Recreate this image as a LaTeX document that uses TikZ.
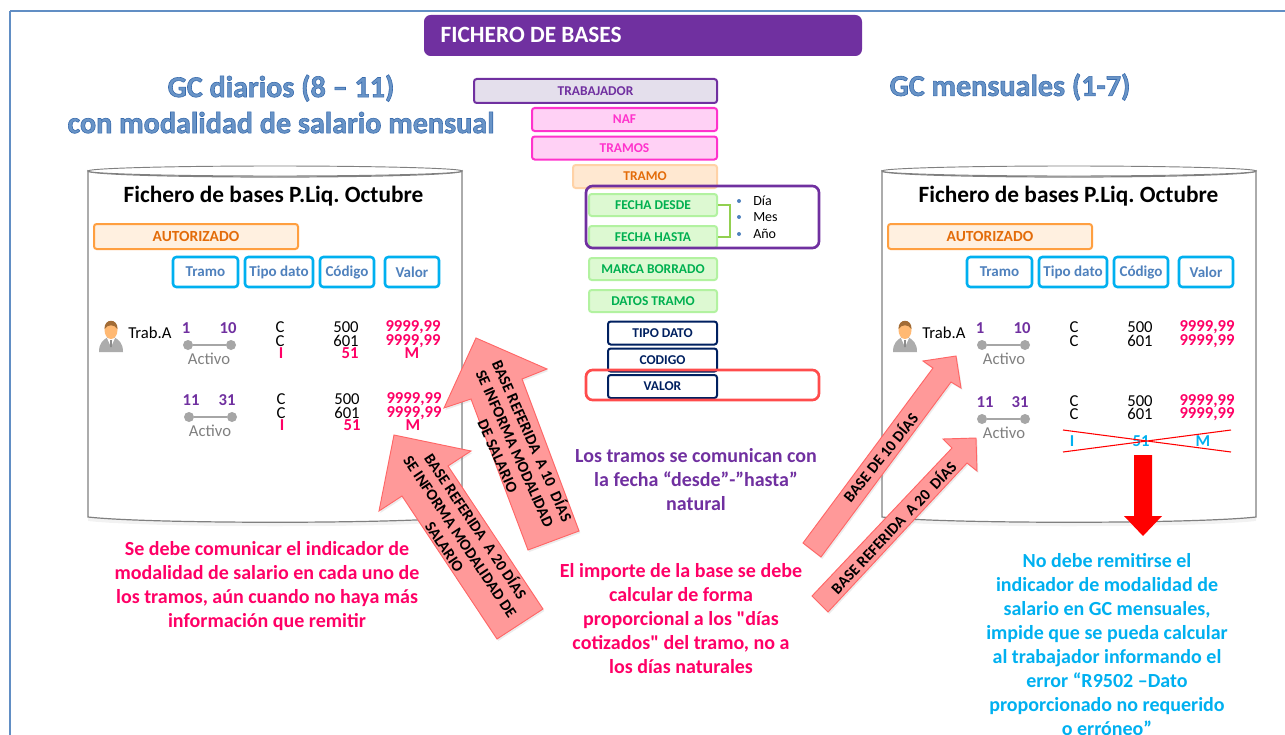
\documentclass[tikz,border=0pt]{standalone}
\usepackage{fontspec}
\setmainfont{Carlito}[Ligatures=TeXOff]
\usetikzlibrary{calc,shadows}
\def\px{0.75pt}
\frenchspacing
\definecolor{lila}{HTML}{7030A0}
\definecolor{lilaclaro}{HTML}{E4DFEC}
\definecolor{azultit}{HTML}{4F81BD}
\definecolor{rosa}{HTML}{FF0066}
\definecolor{fuerte}{HTML}{FF33CC}
\definecolor{fuerteclaro}{HTML}{FFD1F5}
\definecolor{celeste}{HTML}{00B0F0}
\definecolor{naranja}{HTML}{E36C0A}
\definecolor{verde}{HTML}{00B050}
\definecolor{verdeclaro}{HTML}{DDF9D2}
\definecolor{verdeborde}{HTML}{B2F2A0}
\definecolor{marino}{HTML}{002060}
\definecolor{flecha}{HTML}{FF9999}
\definecolor{llave}{HTML}{92D050}
\tikzset{
  barra/.style={draw,rounded corners=2pt,line width=1.5pt,inner sep=0pt,font=\fontsize{10.1}{12}\selectfont\bfseries},
  morada/.style={barra,fill=lilaclaro,draw=lila,text=lila},
  fucsia/.style={barra,fill=fuerteclaro,draw=fuerte,text=fuerte},
  naranjas/.style={barra,fill=orange!18,draw=orange!35,text=naranja},
  verdes/.style={barra,fill=verdeclaro,draw=verdeborde,text=verde},
  marinos/.style={barra,fill=white,draw=marino,text=marino},
  aviso/.style={draw,rounded corners=5pt,line width=2pt},
  titulo/.style={font=\fontsize{22.6}{27}\selectfont\bfseries,text=azultit!85!white,align=center},
  fichero/.style={font=\fontsize{17.5}{20}\selectfont\bfseries},
  cabecera/.style={draw=celeste,rounded corners=2.5pt,line width=1.9pt,fill=white,inner sep=0pt,text=azultit,minimum height=30*\px,font=\fontsize{11.3}{13}\selectfont\bfseries},
  autorizado/.style={barra,fill=orange!12,draw=orange!75,text=naranja,minimum width=204*\px,minimum height=25*\px,font=\fontsize{11.6}{13}\selectfont\bfseries},
  lista/.style={inner sep=0pt,font=\fontsize{10.5}{10.5}\selectfont},
  dato/.style={inner sep=0pt,font=\fontsize{12.5}{12.5}\selectfont},
  datorosa/.style={dato,text=rosa,font=\fontsize{12.5}{12.5}\selectfont\bfseries},
  dia/.style={dato,text=lila,font=\fontsize{12.5}{12.5}\selectfont\bfseries},
  activo/.style={dato,text=gray},
  punto/.style={circle,fill=gray!70,inner sep=0pt,minimum size=10*\px},
  nota/.style={align=center,font=\fontsize{15}{18}\selectfont\bfseries},
  dentro/.style={align=center,inner sep=0pt,font=\fontsize{11.8}{14}\selectfont\bfseries},
  pink/.style={fill=flecha,draw=red!60!white,line width=.7pt,drop shadow={opacity=.15,shadow xshift=1pt,shadow yshift=-1.5pt}},
  bidon/.style={fill=white,draw=gray,line width=.9pt,drop shadow={opacity=.1,shadow xshift=0pt,shadow yshift=-3pt}},
}
\newcommand{\persona}[2]{%
\begin{scope}[shift={(#1,#2)}]
\fill[gray!65] (-12,17) .. controls (-12,8) and (-8,5) .. (-3,2) -- (3,2) .. controls (8,5) and (12,8) .. (12,17) -- cycle;
\fill[white] (-4,3) -- (0,12) -- (4,3) -- cycle;
\fill[gray!90] (-1,5) -- (1,5) -- (0.8,12) -- (-0.8,12) -- cycle;
\fill[orange!55!white] (0,-5) ellipse (6.5 and 9);
\fill[brown!85!black] (-6.5,-6) .. controls (-7,-17) and (7,-17) .. (6.5,-6) .. controls (3,-11) and (-3,-11) .. (-6.5,-6) -- cycle;
\end{scope}}
\newcommand{\realce}[1]{\special{pdf:code 2 Tr 0.45 w 0.22 0.42 0.68 RG}#1\special{pdf:code 0 Tr}}
\begin{document}
\begin{tikzpicture}[x=0.75pt,y=-0.75pt]
\useasboundingbox (0,0) rectangle (1285,735);
\draw[color=azultit!90,line width=1.5pt] (10,11) -- (1285,11) (10,11) -- (10,740);
%titulo
\node[fill=lila,rounded corners=5pt,minimum width=438*\px,minimum height=41*\px,inner sep=0pt] (cabfichero) at (643,35.5) {};
\node[text=white,anchor=west,font=\fontsize{17.5}{20}\selectfont\bfseries] (fichero) at (436,34.5) {FICHERO DE BASES};
\node[titulo] (gcdiarios) at (281,104) {\realce{GC diarios (8 – 11)}\\\realce{con modalidad de salario mensual}};
\node[titulo] (gcmensuales) at (1010,87) {\realce{GC mensuales (1-7)}};
%bidones
\draw[bidon] (88,171) arc[start angle=180,end angle=0,x radius=187,y radius=6] -- (462,517) .. controls (400,524) and (150,524) .. (88,517) -- cycle;
\draw[gray,line width=.7pt,fill=white] (275,171) ellipse (187 and 5);
\draw[bidon] (882,171) arc[start angle=180,end angle=0,x radius=187,y radius=6] -- (1256,517) .. controls (1194,524) and (944,524) .. (882,517) -- cycle;
\draw[gray,line width=.7pt,fill=white] (1069,171) ellipse (187 and 5);
\node[fichero] (ficheroizq) at (273.5,196) {Fichero de bases P.Liq. Octubre};
\node[fichero] (ficheroder) at (1068.5,196) {Fichero de bases P.Liq. Octubre};
%columna central
\node[morada,minimum width=243*\px,minimum height=24*\px] (trabajador) at (595.5,91) {TRABAJADOR};
\node[fucsia,minimum width=185*\px,minimum height=23*\px] (naf) at (624.5,119.5) {NAF};
\node[fucsia,minimum width=185*\px,minimum height=23*\px] (tramos) at (624.5,148) {TRAMOS};
\node[naranjas,minimum width=144*\px,minimum height=23*\px] (tramo) at (645,176.5) {TRAMO};
\node[verdes,minimum width=128*\px,minimum height=22*\px] (desde) at (653,205) {FECHA DESDE};
\node[verdes,minimum width=128*\px,minimum height=22*\px] (hasta) at (653,237) {FECHA HASTA};
\node[verdes,minimum width=128*\px,minimum height=22*\px] (marca) at (653,269) {MARCA BORRADO};
\node[verdes,minimum width=128*\px,minimum height=22*\px] (datos) at (653,301) {DATOS TRAMO};
\node[marinos,minimum width=109*\px,minimum height=23*\px] (tipo) at (662.5,333) {TIPO DATO};
\node[marinos,minimum width=109*\px,minimum height=23*\px] (codigo) at (662.5,360) {CODIGO};
\node[marinos,minimum width=109*\px,minimum height=23*\px] (valor) at (662.5,386.5) {VALOR};
\draw[llave,line width=1.5pt] (desde.east) -- ++(12,0) |- (hasta.east);
\node[aviso,draw=lila,minimum width=233*\px,minimum height=62*\px,inner sep=0pt] (marcofecha) at (702.5,217) {};
\node[aviso,draw=red!70!white,minimum width=233*\px,minimum height=30*\px,inner sep=0pt] (marcovalor) at (702.5,385) {};
\node[lista,anchor=west] (ndia) at (753,201) {Día};
\node[lista,anchor=west] (nmes) at (753,217) {Mes};
\node[lista,anchor=west] (nano) at (753,234) {Año};
\fill[azultit] (739,201) circle (2) (739,217) circle (2) (739,234) circle (2);
%cabeceras izquierda
\node[autorizado] (autizq) at (196,236.5) {AUTORIZADO};
\node[cabecera,minimum width=65*\px] (tramoizq) at (205.5,272) {Tramo};
\node[cabecera,minimum width=68*\px] (tipoizq) at (279,272) {Tipo dato};
\node[cabecera,minimum width=54*\px] (codigoizq) at (347,272) {Código};
\node[cabecera,minimum width=54*\px] (valorizq) at (412,272) {Valor};
%trabajador izquierda
\persona{111}{335}
\node[dato] (trabizq) at (150,333) {Trab.A};
\node[dia] (d1) at (186,328) {1};
\node[dia] (d10) at (228,328) {10};
\node[punto] (p1) at (188,345) {};
\node[punto] (p2) at (231,345) {};
\draw[gray!70,line width=1pt] (p1) -- (p2);
\node[activo] (act1) at (209,359) {Activo};
\node[dato] (c1) at (280,327) {C};
\node[dato] (c2) at (280,341) {C};
\node[datorosa] (i1) at (281,353) {I};
\node[dato] (v500) at (346,327) {500};
\node[dato] (v601) at (346,341) {601};
\node[datorosa] (v51) at (350,353) {51};
\node[datorosa] (imp1) at (413,327) {9999,99};
\node[datorosa] (imp2) at (413,341) {9999,99};
\node[datorosa] (m1) at (412,353) {M};
\node[dia] (d11) at (191,400) {11};
\node[dia] (d31) at (227,400) {31};
\node[punto] (p3) at (189,417) {};
\node[punto] (p4) at (232,417) {};
\draw[gray!70,line width=1pt] (p3) -- (p4);
\node[activo] (act2) at (210,431) {Activo};
\node[dato] (c3) at (281,399) {C};
\node[dato] (c4) at (281,413) {C};
\node[datorosa] (i2) at (282,425) {I};
\node[dato] (w500) at (347,399) {500};
\node[dato] (w601) at (347,413) {601};
\node[datorosa] (w51) at (352,425) {51};
\node[datorosa] (imp3) at (414,399) {9999,99};
\node[datorosa] (imp4) at (414,413) {9999,99};
\node[datorosa] (m2) at (413,425) {M};
%cabeceras derecha
\node[autorizado] (autder) at (990,236.5) {AUTORIZADO};
\node[cabecera,minimum width=65*\px] (tramoder) at (999.5,272) {Tramo};
\node[cabecera,minimum width=68*\px] (tipoder) at (1073,272) {Tipo dato};
\node[cabecera,minimum width=54*\px] (codigoder) at (1141,272) {Código};
\node[cabecera,minimum width=54*\px] (valorder) at (1206,272) {Valor};
%trabajador derecha
\persona{905}{335}
\node[dato] (trabder) at (944,333) {Trab.A};
\node[dia] (e1) at (980,328) {1};
\node[dia] (e10) at (1022,328) {10};
\node[punto] (q1) at (982,345) {};
\node[punto] (q2) at (1025,345) {};
\draw[gray!70,line width=1pt] (q1) -- (q2);
\node[activo] (act3) at (1004,359) {Activo};
\node[dato] (f1) at (1074,327) {C};
\node[dato] (f2) at (1074,341) {C};
\node[dato] (x500) at (1140,327) {500};
\node[dato] (x601) at (1140,341) {601};
\node[datorosa] (imp5) at (1207,327) {9999,99};
\node[datorosa] (imp6) at (1207,341) {9999,99};
\node[dia] (e11) at (985,402) {11};
\node[dia] (e31) at (1020,402) {31};
\node[punto] (q3) at (982,419) {};
\node[punto] (q4) at (1025,419) {};
\draw[gray!70,line width=1pt] (q3) -- (q4);
\node[activo] (act4) at (1004,433) {Activo};
\node[dato] (f3) at (1074,401) {C};
\node[dato] (f4) at (1074,414) {C};
\node[dato] (y500) at (1140,401) {500};
\node[dato] (y601) at (1140,414) {601};
\node[datorosa] (imp7) at (1207,401) {9999,99};
\node[datorosa] (imp8) at (1207,414) {9999,99};
\node[datorosa,text=celeste] (i3) at (1072,441) {I};
\node[datorosa,text=celeste] (y51) at (1141,441) {51};
\node[datorosa,text=celeste] (m3) at (1203,441) {M};
\draw[red,line width=.8pt] (1063,430) -- (1231,452) (1063,452) -- (1231,430);
\fill[red] (1134,455) -- (1152,455) -- (1152,516) -- (1162,516) -- (1143,536) -- (1124,516) -- (1134,516) -- cycle;
%flechas
\draw[pink] (476,338) -- (547,369) -- (522,379) -- (579,531) -- (528,550) -- (471,399) -- (444,408) -- cycle;
\node[dentro,rotate=-66] (txt10) at (516,448) {BASE REFERIDA\ \ A 10\ \ DÍAS\\SE INFORMA MODALIDAD\\DE SALARIO};
\draw[pink] (394,435) -- (471,451) -- (448,466) -- (543,609) -- (497,639) -- (402,496) -- (379,511) -- cycle;
\node[dentro,rotate=-56.3] (txt20) at (461,536) {BASE REFERIDA\ \ A 20 DÍAS\\SE INFORMA MODALIDAD DE\\SALARIO};
\draw[pink] (956,356) -- (961,388) -- (951,382) -- (821,557) -- (803,543) -- (933,368) -- (923,361) -- cycle;
\node[dentro,rotate=51] (txtb10) at (880,457) {BASE DE 10 DÍAS};
\draw[pink] (976,438) -- (977,471) -- (967,463) -- (828,612) -- (812,596) -- (952,448) -- (943,439) -- cycle;
\node[dentro,rotate=46.8] (txtb20) at (893,527) {BASE REFERIDA\ \ A 20\ \ DÍAS};
%notas
\node[nota,text=rosa] (nota1) at (267,586) {Se debe comunicar el indicador de\\modalidad de salario en cada uno de\\los tramos, aún cuando no haya más\\información que remitir};
\node[nota,text=lila] (nota2) at (696,480) {Los tramos se comunican con\\la fecha “desde”-”hasta”\\natural};
\node[nota,text=rosa] (nota3) at (681,618.5) {El importe de la base se debe\\calcular de forma\\proporcional a los "días\\cotizados" del tramo, no a\\los días naturales};
\node[nota,text=celeste] (nota4) at (1107,644.5) {No debe remitirse el\\indicador de modalidad de\\salario en GC mensuales,\\impide que se pueda calcular\\al trabajador informando el\\error “R9502 –Dato\\proporcionado no requerido\\o erróneo”};
\end{tikzpicture}
\end{document}
